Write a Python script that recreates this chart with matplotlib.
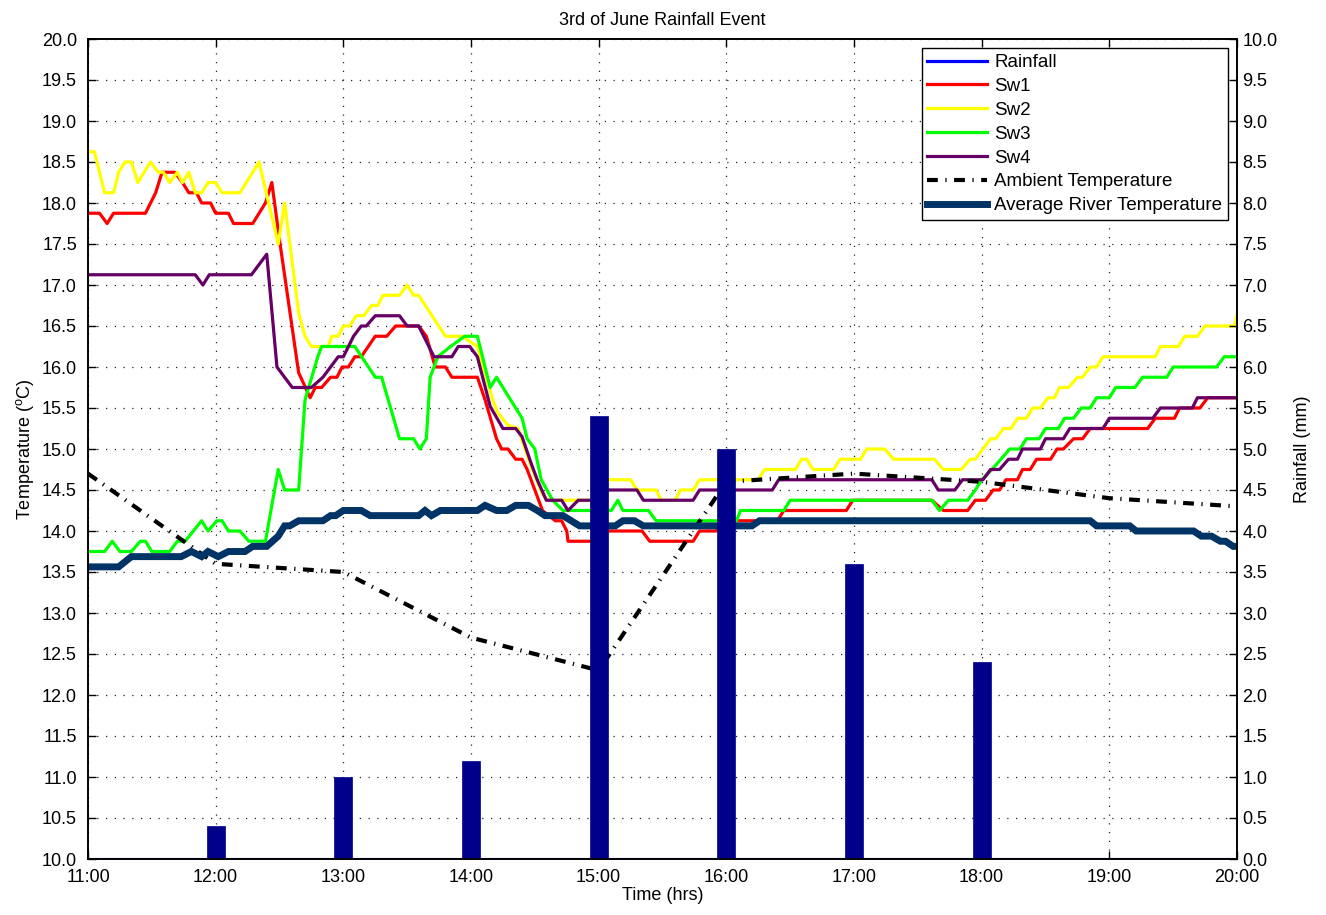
'''
plot stream temperatures and rainfall for the 3rd of June event
'''

import matplotlib
matplotlib.use('Agg')
import matplotlib.pyplot as plt
from matplotlib.lines import Line2D
from matplotlib.ticker import FormatStrFormatter

plt.rcParams['font.family'] = ['Liberation Sans', 'DejaVu Sans']
plt.rcParams['mathtext.default'] = 'regular'
plt.rcParams['font.size'] = 13

# hourly rainfall (mm)
rain_hours = [12, 13, 14, 15, 16, 17, 18]
rain_mm = [0.4, 1.0, 1.2, 5.4, 5.0, 3.6, 2.4]

# hourly ambient air temperature (deg C)
amb_hours = [11, 12, 13, 14, 15, 16, 17, 18, 19, 20]
amb_temp = [14.7, 13.6, 13.5, 12.7, 12.3, 14.6, 14.7, 14.6, 14.4, 14.3]

# stream sensor readings, time in decimal hours
sw1_t = [11.00, 11.09, 11.15, 11.20, 11.45, 11.49, 11.53, 11.58, 11.68, 11.74, 11.79, 11.85,
         11.89, 11.96, 12.00, 12.10, 12.14, 12.29, 12.39, 12.44, 12.50, 12.65, 12.74, 12.78,
         12.83, 12.90, 12.95, 12.99, 13.04, 13.09, 13.14, 13.25, 13.34, 13.41, 13.59, 13.65,
         13.72, 13.80, 13.85, 14.05, 14.11, 14.20, 14.24, 14.29, 14.35, 14.40, 14.44, 14.56,
         14.66, 14.71, 14.75, 14.76, 14.95, 15.03, 15.34, 15.40, 15.74, 15.79, 15.92, 16.05,
         16.40, 16.45, 16.94, 16.99, 17.61, 17.70, 17.89, 17.95, 18.03, 18.09, 18.14, 18.19,
         18.28, 18.32, 18.38, 18.43, 18.54, 18.59, 18.64, 18.72, 18.79, 18.85, 19.30, 19.36,
         19.51, 19.55, 19.71, 19.77, 20.00]
sw1_v = [17.875, 17.875, 17.75, 17.875, 17.875, 18.0, 18.125, 18.375, 18.375, 18.25, 18.125, 18.125,
         18.0, 18.0, 17.875, 17.875, 17.75, 17.75, 18.0, 18.25, 17.55, 15.93, 15.625, 15.75,
         15.75, 15.875, 15.875, 16.0, 16.0, 16.125, 16.125, 16.375, 16.375, 16.5, 16.5, 16.375,
         16.0, 16.0, 15.875, 15.875, 15.6, 15.125, 15.0, 15.0, 14.875, 14.875, 14.75, 14.25,
         14.125, 14.125, 14.0, 13.875, 13.875, 14.0, 14.0, 13.875, 13.875, 14.0, 14.0, 14.125,
         14.125, 14.25, 14.25, 14.375, 14.375, 14.25, 14.25, 14.375, 14.375, 14.5, 14.5, 14.625,
         14.625, 14.75, 14.75, 14.875, 14.875, 15.0, 15.0, 15.125, 15.125, 15.25, 15.25, 15.375,
         15.375, 15.5, 15.5, 15.625, 15.625]

sw2_t = [11.00, 11.05, 11.13, 11.20, 11.24, 11.29, 11.34, 11.39, 11.49, 11.55, 11.59, 11.64,
         11.70, 11.74, 11.79, 11.84, 11.89, 11.94, 12.00, 12.05, 12.19, 12.34, 12.49, 12.54,
         12.65, 12.70, 12.75, 12.88, 12.91, 12.96, 13.00, 13.05, 13.10, 13.16, 13.22, 13.27,
         13.31, 13.44, 13.50, 13.55, 13.59, 13.80, 13.93, 14.05, 14.17, 14.21, 14.29, 14.37,
         14.45, 14.52, 14.56, 14.60, 14.99, 15.06, 15.25, 15.30, 15.45, 15.49, 15.60, 15.64,
         15.74, 15.79, 16.25, 16.30, 16.54, 16.59, 16.63, 16.68, 16.84, 16.89, 17.05, 17.10,
         17.24, 17.31, 17.63, 17.70, 17.84, 17.91, 17.95, 18.01, 18.07, 18.11, 18.17, 18.23,
         18.28, 18.35, 18.40, 18.46, 18.52, 18.57, 18.61, 18.68, 18.75, 18.79, 18.85, 18.90,
         18.95, 19.36, 19.40, 19.54, 19.59, 19.69, 19.75, 19.98, 20.00]
sw2_v = [18.625, 18.625, 18.125, 18.125, 18.375, 18.5, 18.5, 18.25, 18.5, 18.375, 18.375, 18.25,
         18.375, 18.25, 18.375, 18.125, 18.125, 18.25, 18.25, 18.125, 18.125, 18.5, 17.5, 18.0,
         16.66, 16.375, 16.25, 16.25, 16.375, 16.375, 16.5, 16.5, 16.625, 16.625, 16.75, 16.75,
         16.875, 16.875, 17.0, 16.875, 16.875, 16.375, 16.375, 16.25, 15.6, 15.44, 15.29, 15.25,
         14.875, 14.6, 14.45, 14.375, 14.375, 14.625, 14.625, 14.5, 14.5, 14.375, 14.375, 14.5,
         14.5, 14.625, 14.625, 14.75, 14.75, 14.875, 14.875, 14.75, 14.75, 14.875, 14.875, 15.0,
         15.0, 14.875, 14.875, 14.75, 14.75, 14.875, 14.875, 15.0, 15.125, 15.125, 15.25, 15.25,
         15.375, 15.375, 15.5, 15.5, 15.625, 15.625, 15.75, 15.75, 15.875, 15.875, 16.0, 16.0,
         16.125, 16.125, 16.25, 16.25, 16.375, 16.375, 16.5, 16.5, 16.625]

sw3_t = [11.00, 11.13, 11.19, 11.25, 11.34, 11.41, 11.45, 11.50, 11.64, 11.70, 11.76, 11.89,
         11.94, 12.01, 12.05, 12.10, 12.19, 12.26, 12.39, 12.49, 12.54, 12.65, 12.70, 12.80,
         12.83, 13.09, 13.25, 13.30, 13.44, 13.55, 13.60, 13.65, 13.68, 13.74, 13.84, 13.95,
         14.05, 14.15, 14.20, 14.40, 14.44, 14.50, 14.55, 14.64, 14.72, 15.10, 15.15, 15.19,
         15.39, 15.45, 16.08, 16.11, 16.45, 16.50, 17.61, 17.67, 17.74, 17.89, 17.95, 18.00,
         18.08, 18.15, 18.22, 18.30, 18.35, 18.45, 18.50, 18.60, 18.65, 18.72, 18.78, 18.85,
         18.90, 19.00, 19.05, 19.20, 19.26, 19.45, 19.50, 19.84, 19.90, 20.00]
sw3_v = [13.75, 13.75, 13.875, 13.75, 13.75, 13.875, 13.875, 13.75, 13.75, 13.875, 13.875, 14.125,
         14.0, 14.125, 14.125, 14.0, 14.0, 13.875, 13.875, 14.75, 14.5, 14.5, 15.6, 16.125,
         16.25, 16.25, 15.875, 15.875, 15.125, 15.125, 15.0, 15.125, 15.875, 16.125, 16.25, 16.375,
         16.375, 15.75, 15.875, 15.375, 15.125, 15.0, 14.625, 14.375, 14.25, 14.25, 14.375, 14.25,
         14.25, 14.125, 14.125, 14.25, 14.25, 14.375, 14.375, 14.25, 14.375, 14.375, 14.5, 14.625,
         14.75, 14.875, 15.0, 15.0, 15.125, 15.125, 15.25, 15.25, 15.375, 15.375, 15.5, 15.5,
         15.625, 15.625, 15.75, 15.75, 15.875, 15.875, 16.0, 16.0, 16.125, 16.125]

sw4_t = [11.00, 11.84, 11.90, 11.95, 12.28, 12.40, 12.48, 12.60, 12.75, 12.84, 12.90, 12.96,
         13.00, 13.04, 13.08, 13.14, 13.18, 13.25, 13.44, 13.50, 13.59, 13.71, 13.85, 13.90,
         13.99, 14.05, 14.15, 14.25, 14.35, 14.40, 14.47, 14.52, 14.59, 14.71, 14.76, 14.84,
         15.00, 15.06, 15.30, 15.35, 15.74, 15.79, 16.36, 16.41, 17.61, 17.66, 17.79, 17.85,
         18.01, 18.07, 18.14, 18.21, 18.28, 18.32, 18.46, 18.50, 18.64, 18.69, 18.95, 19.00,
         19.34, 19.40, 19.65, 19.69, 20.00]
sw4_v = [17.125, 17.125, 17.0, 17.125, 17.125, 17.375, 16.0, 15.75, 15.75, 15.875, 16.0, 16.125,
         16.125, 16.25, 16.375, 16.5, 16.5, 16.625, 16.625, 16.5, 16.5, 16.125, 16.125, 16.25,
         16.25, 16.125, 15.52, 15.25, 15.25, 15.15, 14.83, 14.62, 14.375, 14.375, 14.25, 14.375,
         14.375, 14.5, 14.5, 14.375, 14.375, 14.5, 14.5, 14.625, 14.625, 14.5, 14.5, 14.625,
         14.625, 14.75, 14.75, 14.875, 14.875, 15.0, 15.0, 15.125, 15.125, 15.25, 15.25, 15.375,
         15.375, 15.5, 15.5, 15.625, 15.625]

river_t = [11.00, 11.24, 11.34, 11.73, 11.81, 11.89, 11.94, 12.02, 12.10, 12.23, 12.29, 12.40,
           12.49, 12.54, 12.58, 12.65, 12.84, 12.90, 12.94, 13.00, 13.14, 13.21, 13.59, 13.64,
           13.69, 13.76, 14.05, 14.11, 14.20, 14.28, 14.35, 14.45, 14.52, 14.58, 14.72, 14.85,
           15.13, 15.19, 15.28, 15.35, 16.20, 16.26, 18.85, 18.90, 19.16, 19.21, 19.66, 19.72,
           19.80, 19.87, 19.91, 19.97, 20.00]
river_v = [13.5625, 13.5625, 13.6875, 13.6875, 13.75, 13.6875, 13.75, 13.6875, 13.75, 13.75, 13.8125, 13.8125,
           13.9375, 14.0625, 14.0625, 14.125, 14.125, 14.1875, 14.1875, 14.25, 14.25, 14.1875, 14.1875, 14.25,
           14.1875, 14.25, 14.25, 14.3125, 14.25, 14.25, 14.3125, 14.3125, 14.25, 14.1875, 14.1875, 14.0625,
           14.0625, 14.125, 14.125, 14.0625, 14.0625, 14.125, 14.125, 14.0625, 14.0625, 14.0, 14.0, 13.9375,
           13.9375, 13.875, 13.875, 13.8125, 13.8125]

hour_labels = ['11:00', '12:00', '13:00', '14:00', '15:00', '16:00', '17:00', '18:00', '19:00', '20:00']

fig = plt.figure(figsize=(13.26, 9.15), dpi=100)
ax = fig.add_axes([88 / 1326, 1 - 859 / 915, (1237 - 88) / 1326, (859 - 39) / 915])

sw_lw = 2.3
ax.plot(sw1_t, sw1_v, color='#ff0000', lw=sw_lw, label='Sw1')
ax.plot(sw2_t, sw2_v, color='#ffff00', lw=sw_lw, label='Sw2')
ax.plot(sw3_t, sw3_v, color='#00ff00', lw=sw_lw, label='Sw3')
ax.plot(sw4_t, sw4_v, color='#660066', lw=sw_lw, label='Sw4')
ax.plot(amb_hours, amb_temp, color='black', lw=3, linestyle=(0, (2.6, 1.8, 0.3, 1.8)),
        label='Ambient Temperature')
ax.plot(river_t, river_v, color='#003366', lw=5, solid_joinstyle='miter',
        label='Average River Temperature')

ax.set_xlim(11, 20)
ax.set_ylim(10, 20)
ax.set_xticks(amb_hours)
ax.set_xticklabels(hour_labels)
ax.set_yticks([10 + 0.5 * i for i in range(21)])
ax.yaxis.set_major_formatter(FormatStrFormatter('%.1f'))
ax.tick_params(direction='in', length=6, width=1, top=True, right=False, labelsize=13)
ax.tick_params(axis='x', pad=7)
ax.tick_params(axis='y', pad=8)
ax.grid(True, color='#222222', linestyle=(0, (1, 6)), linewidth=0.9)
for s in ax.spines.values():
    s.set_linewidth(1.2)

ax.set_title('3rd of June Rainfall Event', fontsize=13, pad=10)
ax.set_xlabel('Time (hrs)', fontsize=13, labelpad=1)
ax.set_ylabel('Temperature ($^{o}$C)', fontsize=13, labelpad=4)

# rainfall bars on the secondary axis
ax2 = ax.twinx()
ax2.bar(rain_hours, rain_mm, width=0.14, color='#00008b', edgecolor='#00008b', linewidth=0.5)
ax2.axhline(0, color='#00005a', lw=1.5)
ax2.set_ylim(0, 10)
ax2.set_yticks([0.5 * i for i in range(21)])
ax2.yaxis.set_major_formatter(FormatStrFormatter('%.1f'))
ax2.tick_params(direction='in', length=6, width=1, labelsize=13, pad=4)
ax2.set_ylabel('Rainfall (mm)', fontsize=13, labelpad=12)
for s in ax2.spines.values():
    s.set_linewidth(1.2)

handles, labels = ax.get_legend_handles_labels()
handles = [Line2D([], [], color='#0000ff', lw=sw_lw)] + handles
labels = ['Rainfall'] + labels
leg = ax2.legend(handles, labels, loc='upper right', bbox_to_anchor=(1.0, 1.0),
                 borderaxespad=0.5, fontsize=13.5, handlelength=3.2, handletextpad=0.35,
                 labelspacing=0.36, fancybox=False, framealpha=1, borderpad=0.3)
leg.get_frame().set_edgecolor('black')
leg.get_frame().set_linewidth(1.0)

fig.savefig('out.png', dpi=100)
